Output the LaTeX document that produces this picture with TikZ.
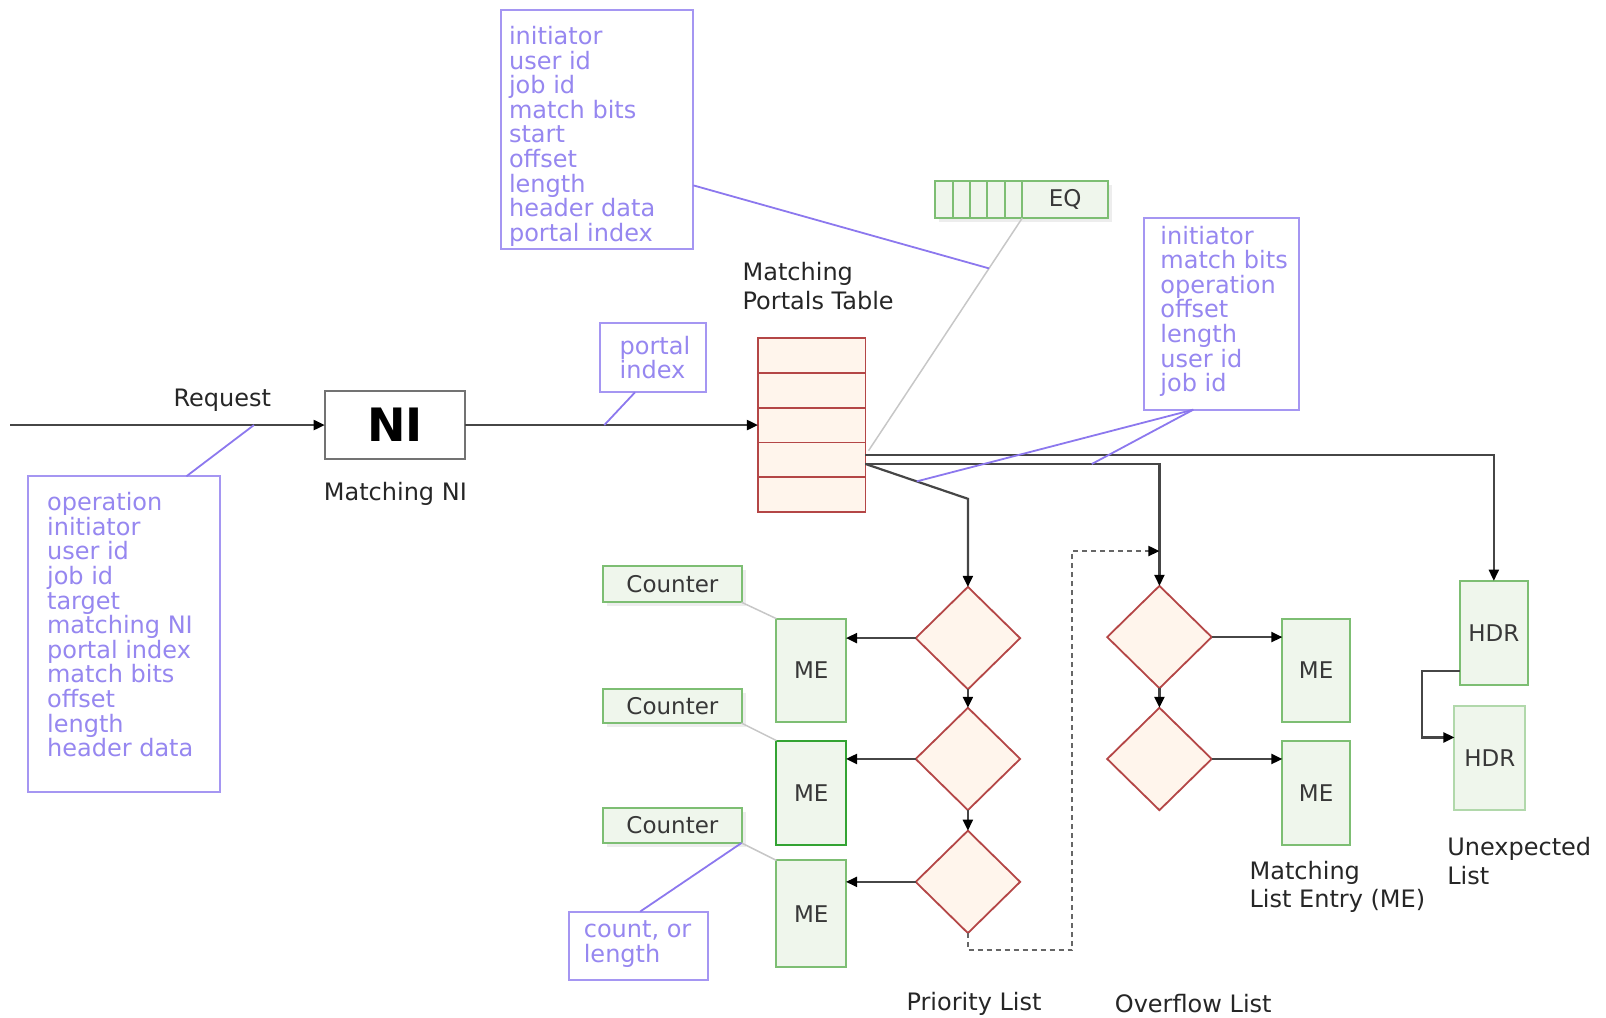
\documentclass[tikz,border=0pt]{standalone}
\usepackage{fontspec}
\setmainfont{DejaVu Sans}
\usetikzlibrary{shapes.geometric,arrows.meta,calc,shadows}
\newlength\upx \setlength\upx{1.0242pt}

\definecolor{infoline}{RGB}{140,120,238}
\definecolor{infotext}{RGB}{150,135,240}
\definecolor{infoedge}{RGB}{165,150,242}
\definecolor{greenline}{RGB}{125,190,115}
\definecolor{greenfill}{RGB}{239,246,236}
\definecolor{redline}{RGB}{180,70,70}
\definecolor{redfill}{RGB}{255,245,236}
\definecolor{connc}{RGB}{70,70,70}

\begin{document}
\begin{tikzpicture}[x=1.0242pt,y=-1.0242pt,
  every node/.style={inner sep=0pt, outer sep=0pt},
  txt/.style={font=\fontsize{24}{28.7}\selectfont, text=black!85, align=left},
  purpletxt/.style={font=\fontsize{24}{24.6}\selectfont, text=infotext, align=left, anchor=west},
  infobox/.style={draw=infoedge, line width=2pt, fill=white},
  greenbox/.style={draw=greenline, line width=2pt, fill=greenfill, font=\fontsize{23}{24}\selectfont, text=black!78},
  tabrow/.style={draw=redline, line width=1.8pt, fill=redfill, minimum width=105\upx, minimum height=34\upx},
  decide/.style={diamond, draw=redline, line width=1.8pt, fill=redfill, minimum width=102\upx, minimum height=100\upx},
  conn/.style={draw=connc, line width=2.2pt, -{Triangle[length=11pt,width=10pt,color=black]}},
  dashconn/.style={draw=black!60, line width=2pt, dash pattern=on 5pt off 4pt, -{Triangle[length=11pt,width=10pt,color=black]}},
  noteline/.style={draw=infoline, line width=1.8pt},
  faintline/.style={draw=black!22, line width=1.5pt},
  shade/.style={drop shadow={shadow xshift=4pt, shadow yshift=-4pt, fill=black, opacity=0.07}},
]
\useasboundingbox (0,0) rectangle (1568,993);

% ---------- matching NI ----------
\coordinate (reqstart) at (10,415);
\node[draw=black!55, line width=2pt, fill=white, minimum width=137\upx, minimum height=66\upx,
      font=\bfseries\fontsize{46}{46}\selectfont] (ni) at (385.5,415) {NI};
\node[txt] (reqlabel) at (217,391) {Request};
\node[txt] (nilabel) at (386,482) {Matching NI};
\draw[conn] (reqstart) -- (ni.west);

% ---------- portals table ----------
\foreach \i/\yy in {1/347,2/381,3/415,4/449,5/483}
  \node[tabrow] (row\i) at (792.5,\yy) {};
\node[txt, anchor=west] (ptlabel) at (725,279) {Matching\\Portals Table};
\draw[conn] (ni.east) -- (row3.west);

% ---------- event queue ----------
\node[greenbox, shade, minimum width=169\upx, minimum height=36\upx] (eq) at (997.5,195) {};
\foreach \k in {1,...,5}
  \draw[greenline, line width=2pt] ($(eq.north west)+(17*\k,0)$) -- ($(eq.south west)+(17*\k,0)$);
\node[greenbox, draw=none, fill=none] (eqlabel) at (1040,195) {EQ};
\coordinate (eqtap) at ($(eq.south west)+(85,0)$);
\coordinate (tabtap) at ($(row4.north east)+(3,8)$);
\draw[faintline] (eqtap) -- (tabtap);

% ---------- information boxes ----------
\node[infobox, minimum width=188\upx, minimum height=233\upx] (topinfo) at (583,126.5) {};
\node[purpletxt] (topinfotext) at (497,133)
  {initiator\\user id\\job id\\match bits\\start\\offset\\length\\header data\\portal index};
\draw[noteline] ($(topinfo.north east)+(0,171)$) -- ($(eqtap)!0.216!(tabtap)$);

\node[infobox, minimum width=188\upx, minimum height=308\upx] (leftinfo) at (121,619) {};
\node[purpletxt] (leftinfotext) at (46,610)
  {operation\\initiator\\user id\\job id\\target\\matching NI\\portal index\\match bits\\offset\\length\\header data};
\draw[noteline] ($(leftinfo.north west)+(155,0)$) -- ($(reqstart)!0.775!(ni.west)$);

\node[infobox, minimum width=103\upx, minimum height=68\upx] (portal) at (637.5,349) {};
\node[purpletxt] (portaltext) at (605,349) {portal\\index};
\draw[noteline] ($(portal.south west)+(34,0)$) -- ($(ni.east)!0.4755!(row3.west)$);

\node[infobox, minimum width=151\upx, minimum height=187\upx] (rightinfo) at (1192.5,306.5) {};
\node[purpletxt] (rightinfotext) at (1133,304)
  {initiator\\match bits\\operation\\offset\\length\\user id\\job id};

% ---------- lists ----------
\node[decide] (p1) at (945,623) {};
\node[decide] (p2) at (945,741) {};
\node[decide] (p3) at (945,861) {};
\node[decide] (o1) at (1132,622) {};
\node[decide] (o2) at (1132,741) {};

\node[greenbox, minimum width=68\upx, minimum height=101\upx] (me1) at (792,654.5) {ME};
\node[greenbox, draw=green!55!black!80, minimum width=68\upx, minimum height=102\upx] (me2) at (792,774) {ME};
\node[greenbox, minimum width=68\upx, minimum height=104\upx] (me3) at (792,892) {ME};
\node[greenbox, minimum width=66\upx, minimum height=101\upx] (ome1) at (1285,654.5) {ME};
\node[greenbox, minimum width=66\upx, minimum height=102\upx] (ome2) at (1285,774) {ME};
\node[greenbox, minimum width=67\upx, minimum height=102\upx] (h1) at (1458.5,618) {HDR};
\node[greenbox, draw=greenline!60, minimum width=69\upx, minimum height=102\upx] (h2) at (1454.5,740) {HDR};

\node[greenbox, shade, minimum width=135\upx, minimum height=35\upx] (c1) at (656.5,570.5) {Counter};
\node[greenbox, shade, minimum width=135\upx, minimum height=33\upx] (c2) at (656.5,689.5) {Counter};
\node[greenbox, shade, minimum width=135\upx, minimum height=34\upx] (c3) at (656.5,806) {Counter};
\draw[faintline] (c1.south east) -- (me1.north west);
\draw[faintline] (c2.south east) -- (me2.north west);
\draw[faintline] (c3.south east) -- (me3.north west);

\node[infobox, minimum width=135\upx, minimum height=67\upx] (countbox) at (623.5,923.5) {};
\node[purpletxt] (counttext) at (570,922) {count, or\\length};
\draw[noteline] ($(countbox.north west)+(69,0)$) -- (c3.south east);

% ---------- connectors out of the table ----------
\coordinate (outhi) at ($(row4.north east)+(0,12)$);
\coordinate (outlo) at ($(row4.north east)+(0,21)$);
\coordinate (pbend) at (945,487);
\draw[conn] (outhi) -| (h1.north);
\draw[conn] (outlo) -| (o1.north);
\draw[conn] (outlo) -- (pbend) -- (p1.north);
\draw[noteline] ($(rightinfo.south west)+(48,0)$) -- ($(outlo)!0.5!(pbend)$);
\draw[noteline] ($(rightinfo.south west)+(48,0)$) -- ($(outlo)!0.77!(o1.north |- outlo)$);

% priority list
\draw[conn] (p1.south) -- (p2.north);
\draw[conn] (p2.south) -- (p3.north);
\draw[conn] (p1.west) -- (p1.west -| me1.east);
\draw[conn] (p2.west) -- (p2.west -| me2.east);
\draw[conn] (p3.west) -- (p3.west -| me3.east);

% overflow list
\coordinate (ovjoin) at ($(o1.north)+(0,-34)$);
\draw[dashconn] (p3.south) -- ++(0,17) -- ++(102,0) |- (ovjoin);
\draw[conn] (o1.south) -- (o2.north);
\draw[conn] (o1.east) -- (o1.east -| ome1.west);
\draw[conn] (o2.east) -- (o2.east -| ome2.west);

% unexpected list
\coordinate (h1out) at ($(h1.south west)+(0,-14)$);
\coordinate (h2in) at ($(h2.north west)+(0,31)$);
\draw[conn] (h1out) -- ++(-37,0) |- (h2in);

% ---------- captions ----------
\node[txt] (prilabel) at (951,980) {Priority List};
\node[txt] (ovlabel) at (1165,980) {Overflow List};
\node[txt, anchor=west] (melabel) at (1220,866) {Matching\\List Entry (ME)};
\node[txt, anchor=west] (unexlabel) at (1413,841) {Unexpected\\List};
\end{tikzpicture}
\end{document}
